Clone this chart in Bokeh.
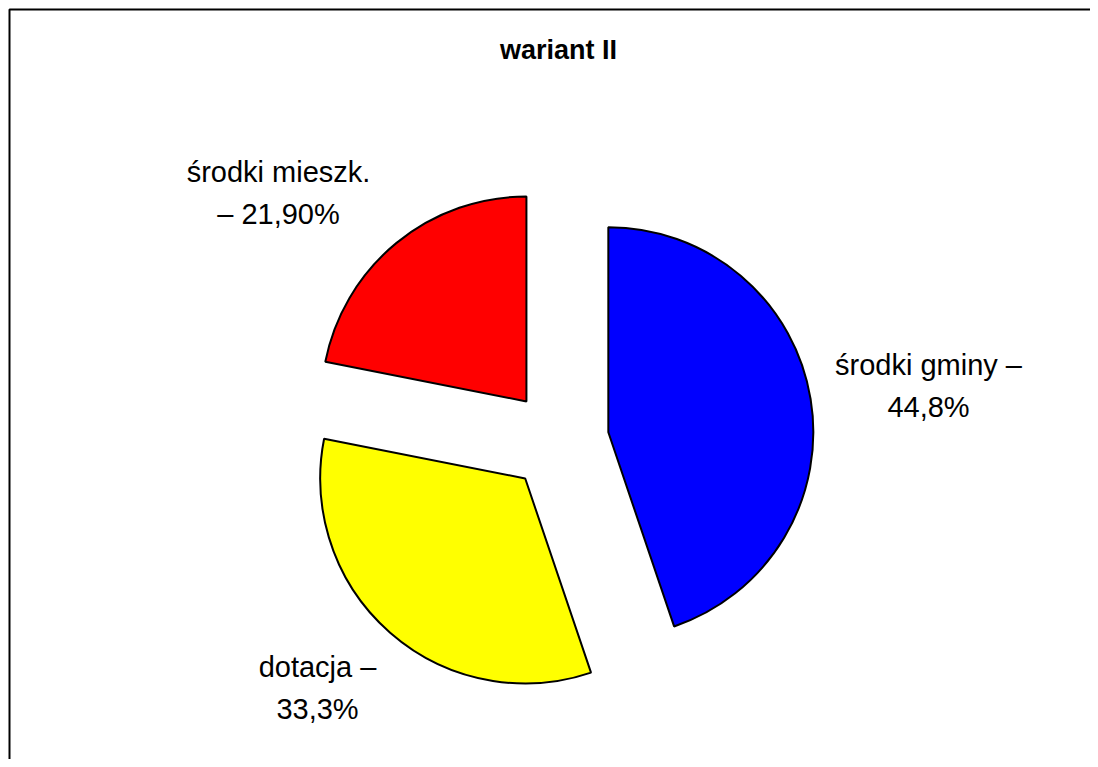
import math
from bokeh.plotting import figure
from bokeh.models import Range1d, ColumnDataSource
from bokeh.core.properties import value
from bokeh.embed import file_html
from bokeh.resources import INLINE

# ---- data ----
title = "wariant II"
categories = ["środki gminy", "dotacja", "środki mieszk."]
shares = [44.8, 33.3, 21.9]
label_line1 = ["środki gminy –", "dotacja –", "środki mieszk."]
label_line2 = ["44,8%", "33,3%", "– 21,90%"]
colors = ["#0000FF", "#FFFF00", "#FF0000"]

# ---- layout (picture px -> data units, 1:1) ----
W, H = 1090, 759
def sx(x):
    return x
def sy(y):
    return H - y

cx, cy = sx(558), sy(440)
R = 205
explode = 50.5

p = figure(width=W, height=H, x_range=Range1d(0, W), y_range=Range1d(0, H),
           output_backend="svg", toolbar_location=None, min_border=0,
           outline_line_color=None, background_fill_color="white",
           border_fill_color="white")
p.axis.visible = False
p.grid.visible = False

# chart-area border (only left and top edges fall inside the window)
p.quad(left=[sx(9)], right=[sx(3000)], top=[sy(9)], bottom=[sy(3000)],
       fill_color=None, line_color="black", line_width=2)

total = sum(shares)
xs, ys, starts, ends = [], [], [], []
a = math.pi / 2
for v in shares:
    sweep = 2 * math.pi * v / total
    s, e = a, a - sweep
    mid = (s + e) / 2
    xs.append(cx + explode * math.cos(mid))
    ys.append(cy + explode * math.sin(mid))
    starts.append(s)
    ends.append(e)
    a = e

src = ColumnDataSource(dict(x=xs, y=ys, start=starts, end=ends, color=colors, cat=categories))
p.wedge(x="x", y="y", radius=R, start_angle="start", end_angle="end",
        direction="clock", fill_color="color", line_color="black", line_width=2,
        source=src)

# labels (positions in picture px)
label_pos = [(928, 385), (317, 687), (278, 192)]
half_gap = 21
for (lx, ly), t1, t2 in zip(label_pos, label_line1, label_line2):
    p.text(x=[sx(lx)], y=[sy(ly - half_gap)], text=[t1], text_align="center",
           text_baseline="middle", text_font=value("Liberation Sans"),
           text_font_size="29px", text_color="black")
    p.text(x=[sx(lx)], y=[sy(ly + half_gap)], text=[t2], text_align="center",
           text_baseline="middle", text_font=value("Liberation Sans"),
           text_font_size="29px", text_color="black")

# title
p.text(x=[sx(558)], y=[sy(49)], text=[title], text_align="center",
       text_baseline="middle", text_font=value("Liberation Sans"),
       text_font_style="bold", text_font_size="27px", text_color="black")

open("out.html", "w").write(file_html(p, INLINE))
